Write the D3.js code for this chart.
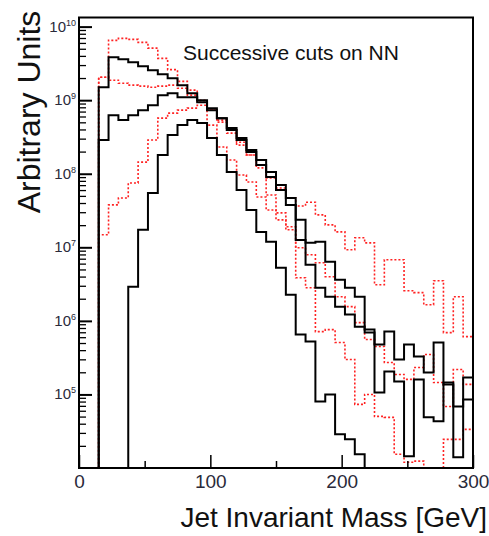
<!DOCTYPE html>
<html>
<head>
<meta charset="utf-8">
<script src="https://cdn.jsdelivr.net/npm/d3@7"></script>
<style>
  html, body { margin: 0; padding: 0; background: #fff; }
  svg { display: block; }
  text { font-family: "Liberation Sans", Arial, Helvetica, sans-serif; }
</style>
</head>
<body>
<svg id="chart" width="489" height="536"></svg>
<script>
// Jet invariant mass, 40 bins of 7.5 GeV from 0 to 300 GeV
const massMin = 0, massMax = 300, nBins = 40;
const binEdges = d3.range(nBins + 1).map(i => massMin + i * (massMax - massMin) / nBins);

// Solid black histograms (successive cuts)
const blackLoose = [0, 0, 1.50e9, 3.83e9, 3.60e9, 3.27e9, 2.89e9, 2.55e9, 2.25e9, 1.99e9,
  1.60e9, 1.24e9, 1.0e9, 7.79e8, 5.70e8, 4.17e8, 3.05e8, 2.10e8, 1.54e8, 1.06e8,
  7.04e7, 4.69e7, 2.36e7, 1.15e7, 1.19e7, 6.36e6, 3.62e6, 2.82e6, 2.13e6, 7.61e5,
  4.76e5, 7.15e5, 2.98e5, 4.76e5, 3.27e5, 1.99e5, 5.07e5, 1.37e5, 6.87e4, 8.55e4];
const blackMid = [0, 0, 2.87e8, 6.26e8, 5.36e8, 6.26e8, 7.32e8, 8.55e8, 1.17e9, 1.24e9,
  1.10e9, 1.10e9, 9.39e8, 7.32e8, 5.70e8, 3.92e8, 2.87e8, 1.97e8, 1.31e8, 9.04e7,
  6.02e7, 3.77e7, 1.26e7, 5.79e6, 2.82e6, 2.13e6, 1.56e6, 1.22e6, 8.35e5, 6.93e5,
  1.06e5, 2.05e5, 1.50e5, 1.44e4, 1.60e5, 4.88e4, 4.31e4, 1.45e5, 1.40e4, 1.70e5];
const blackTight = [0, 0, 0, 0, 0, 2.91e6, 1.73e7, 5.48e7, 1.80e8, 3.35e8,
  4.58e8, 5.36e8, 4.88e8, 3.05e8, 1.80e8, 1.06e8, 6.02e7, 3.22e7, 1.62e7, 1.19e7,
  5.27e6, 2.27e6, 6.51e5, 5.23e5, 8.04e4, 1.0e5, 2.87e4, 2.45e4, 1.54e4, 0,
  0, 0, 0, 0, 0, 0, 0, 0, 0, 0];

// Dotted red histograms (successive cuts)
const redLoose = [0, 0, 2.05e9, 6.51e9, 6.93e9, 6.70e9, 6.11e9, 5.10e9, 3.70e9, 2.60e9,
  1.80e9, 1.37e9, 1.0e9, 7.32e8, 5.03e8, 3.57e8, 2.45e8, 1.80e8, 1.31e8, 8.75e7,
  6.41e7, 4.69e7, 3.65e7, 4.10e7, 2.76e7, 2.02e7, 1.62e7, 9.25e6, 1.35e7, 1.15e7,
  3.10e6, 6.77e6, 6.77e6, 2.57e6, 2.42e6, 1.66e6, 3.51e6, 6.93e5, 2.13e6, 6.11e5];
const redMid = [0, 0, 2.05e9, 1.87e9, 1.70e9, 1.60e9, 1.55e9, 1.50e9, 1.55e9, 1.60e9,
  1.45e9, 1.17e9, 9.39e8, 7.32e8, 5.36e8, 3.92e8, 2.68e8, 1.80e8, 1.20e8, 5.15e7,
  2.94e7, 1.73e7, 9.85e6, 7.91e6, 6.16e6, 3.98e6, 2.13e6, 1.56e6, 9.46e5, 5.57e5,
  4.48e5, 2.72e5, 1.87e5, 1.60e5, 2.32e5, 3.49e5, 1.45e5, 6.87e4, 2.18e5, 1.37e5];
const redTight = [0, 0, 1.48e7, 3.77e7, 4.69e7, 7.49e7, 1.44e8, 2.87e8, 5.70e8, 6.67e8,
  7.32e8, 7.79e8, 8.55e8, 4.58e8, 2.31e8, 1.54e8, 9.62e7, 7.73e7, 4.84e7, 3.22e7,
  2.36e7, 1.90e7, 3.86e6, 2.82e6, 7.15e5, 7.61e5, 5.07e5, 2.98e5, 7.32e4, 1.0e5,
  5.03e4, 4.88e4, 1.54e4, 1.20e4, 1.24e4, 0, 0, 2.45e4, 2.45e4, 3.35e4];

// Axis ticks and labels
const xMajorTicks = [0, 100, 200, 300];
const xMinorTicks = [50, 150, 250];
const yDecades = [5, 6, 7, 8, 9, 10];
const yMin = 1e4, yMax = 1.33e10;

const titleX = "Jet Invariant Mass [GeV]";
const titleY = "Arbitrary Units";
const caption = "Successive cuts on NN";

const svg = d3.select("#chart");
const plot = { left: 79, right: 473, top: 17.5, bottom: 468 };

const x = d3.scaleLinear().domain([massMin, massMax]).range([plot.left, plot.right]);
const y = d3.scaleLog().domain([yMin, yMax]).range([plot.bottom, plot.top]).clamp(true);

// Histogram outline: rises from the axis floor, steps across every bin, drops back down
function histPoints(values) {
  const pts = [[x(binEdges[0]), y(yMin)]];
  values.forEach((v, i) => {
    const yy = y(Math.max(v, yMin));
    pts.push([x(binEdges[i]), yy], [x(binEdges[i + 1]), yy]);
  });
  pts.push([x(binEdges[nBins]), y(yMin)]);
  return pts;
}
const line = d3.line();

const hists = svg.append("g").attr("class", "hists");
[redLoose, redMid, redTight].forEach(vals => {
  hists.append("path")
    .attr("d", line(histPoints(vals)))
    .attr("fill", "none")
    .attr("stroke", "#f22")
    .attr("stroke-width", 1.6)
    .attr("stroke-dasharray", "2,2");
});
[blackLoose, blackMid, blackTight].forEach(vals => {
  hists.append("path")
    .attr("d", line(histPoints(vals)))
    .attr("fill", "none")
    .attr("stroke", "#000")
    .attr("stroke-width", 2)
    .attr("stroke-linejoin", "miter");
});

// X axis: ticks point into the frame
const xAxisMajor = d3.axisBottom(x).tickValues(xMajorTicks).tickSizeInner(-13).tickSizeOuter(0)
  .tickPadding(7).tickFormat(d3.format("d"));
const gx = svg.append("g").attr("transform", `translate(0,${plot.bottom})`).call(xAxisMajor);
gx.select(".domain").remove();
gx.selectAll(".tick line").attr("stroke", "#000").attr("stroke-width", 1.5);
gx.selectAll(".tick text").attr("font-size", 19).attr("fill", "#2a2a3a")
  .attr("font-family", "'Liberation Sans', Arial, sans-serif");

const xAxisMinor = d3.axisBottom(x).tickValues(xMinorTicks).tickSizeInner(-7).tickSizeOuter(0).tickFormat("");
const gxm = svg.append("g").attr("transform", `translate(0,${plot.bottom})`).call(xAxisMinor);
gxm.select(".domain").remove();
gxm.selectAll(".tick line").attr("stroke", "#000").attr("stroke-width", 1.5);

// Y axis: log decades with minor ticks at 2..9
const yMajor = yDecades.map(e => Math.pow(10, e)).filter(v => v <= yMax);
const yMinor = [];
for (let e = 4; e <= 10; e++) for (let m = 2; m <= 9; m++) {
  const v = m * Math.pow(10, e);
  if (v > yMin && v < yMax) yMinor.push(v);
}
const yAxisMajor = d3.axisLeft(y).tickValues(yMajor).tickSizeInner(-13).tickSizeOuter(0).tickFormat("");
const gy = svg.append("g").attr("transform", `translate(${plot.left},0)`).call(yAxisMajor);
gy.select(".domain").remove();
gy.selectAll(".tick line").attr("stroke", "#000").attr("stroke-width", 2);
const yAxisMinor = d3.axisLeft(y).tickValues(yMinor).tickSizeInner(-7).tickSizeOuter(0).tickFormat("");
const gym = svg.append("g").attr("transform", `translate(${plot.left},0)`).call(yAxisMinor);
gym.select(".domain").remove();
gym.selectAll(".tick line").attr("stroke", "#000").attr("stroke-width", 1.3);

// Decade labels written as 10 with a raised exponent
const ylab = svg.append("g");
yDecades.forEach(e => {
  const t = ylab.append("text")
    .attr("x", 76)
    .attr("y", y(Math.pow(10, e)) + 5)
    .attr("text-anchor", "end")
    .attr("fill", "#2a2a3a")
    .attr("font-size", 15);
  t.append("tspan").text("10");
  t.append("tspan").attr("dy", -6).attr("font-size", 9).text(String(e));
});

// Frame
svg.append("rect")
  .attr("x", plot.left).attr("y", plot.top)
  .attr("width", plot.right - plot.left).attr("height", plot.bottom - plot.top)
  .attr("fill", "none").attr("stroke", "#000").attr("stroke-width", 2);

// Titles
svg.append("text")
  .attr("x", 487).attr("y", 527)
  .attr("text-anchor", "end")
  .attr("font-size", 28)
  .attr("fill", "#111")
  .text(titleX);

svg.append("text")
  .attr("transform", "translate(40,112) rotate(-90)")
  .attr("text-anchor", "middle")
  .attr("font-size", 32)
  .attr("fill", "#111")
  .text(titleY);

svg.append("text")
  .attr("x", 183).attr("y", 60)
  .attr("font-size", 21)
  .attr("fill", "#111")
  .text(caption);
</script>
</body>
</html>
